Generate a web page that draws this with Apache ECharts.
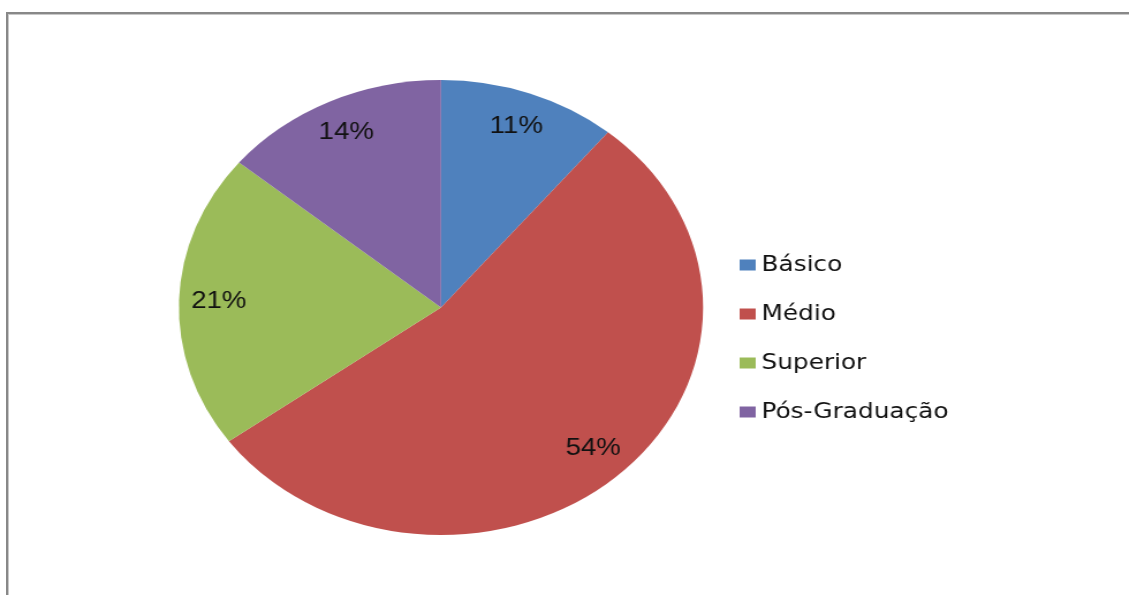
<!DOCTYPE html>
<html>
<head>
<meta charset="utf-8">
<script src="https://cdn.jsdelivr.net/npm/echarts@6/dist/echarts.min.js"></script>
<style>
  html, body { margin: 0; padding: 0; background: #fff; overflow: hidden; width: 1129px; height: 595px; }
  #wrap { width: 1129px; height: 595px; overflow: hidden; position: relative; background: #fff; }
  #chart { width: 980px; height: 595px; transform: scaleX(1.152); transform-origin: 0 0; position: absolute; left: 0; top: 0; }
  #frame { position: absolute; left: 6px; top: 12px; width: 1200px; height: 700px; border-left: 2px solid #888; border-top: 2px solid #888; pointer-events: none; }
  #frame2 { position: absolute; left: 8px; top: 14px; width: 1200px; height: 700px; border-left: 1px solid #c8c8c8; border-top: 1px solid #c8c8c8; pointer-events: none; }
</style>
</head>
<body>
<div id="wrap"><div id="chart"></div><div id="frame"></div><div id="frame2"></div></div>
<script>
const categories = ['Básico', 'Médio', 'Superior', 'Pós-Graduação'];
const values = [11, 54, 21, 14];

const palette = ['#4F81BD', '#C0504D', '#9BBB59', '#8064A2'];
const pieData = categories.map((name, i) => ({ name: name, value: values[i] }));

const chart = echarts.init(document.getElementById('chart'), null, { renderer: 'canvas' });
chart.setOption({
  animation: false,
  color: palette,
  legend: {
    orient: 'vertical',
    left: 637,
    top: 248,
    itemWidth: 14,
    itemHeight: 11,
    itemGap: 25,
    itemTextGap: 8,
    icon: 'rect',
    selectedMode: false,
    data: categories,
    textStyle: { fontFamily: 'DejaVu Sans', fontSize: 21.5, color: '#111', lineHeight: 24 }
  },
  series: [
    {
      type: 'pie',
      center: [382.8, 307.5],
      radius: 227.5,
      startAngle: 90,
      clockwise: true,
      label: { show: false },
      labelLine: { show: false },
      emphasis: { disabled: true },
      silent: true,
      itemStyle: { borderWidth: 0 },
      data: pieData
    },
    {
      type: 'pie',
      center: [382.8, 307.5],
      radius: 380,
      startAngle: 90,
      clockwise: true,
      silent: true,
      emphasis: { disabled: true },
      itemStyle: { color: 'rgba(0,0,0,0)', borderWidth: 0 },
      label: {
        show: true,
        position: 'inside',
        formatter: '{c}%',
        fontFamily: 'Liberation Sans',
        fontSize: 24,
        color: '#111'
      },
      labelLine: { show: false },
      data: pieData
    }
  ]
});
</script>
</body>
</html>
